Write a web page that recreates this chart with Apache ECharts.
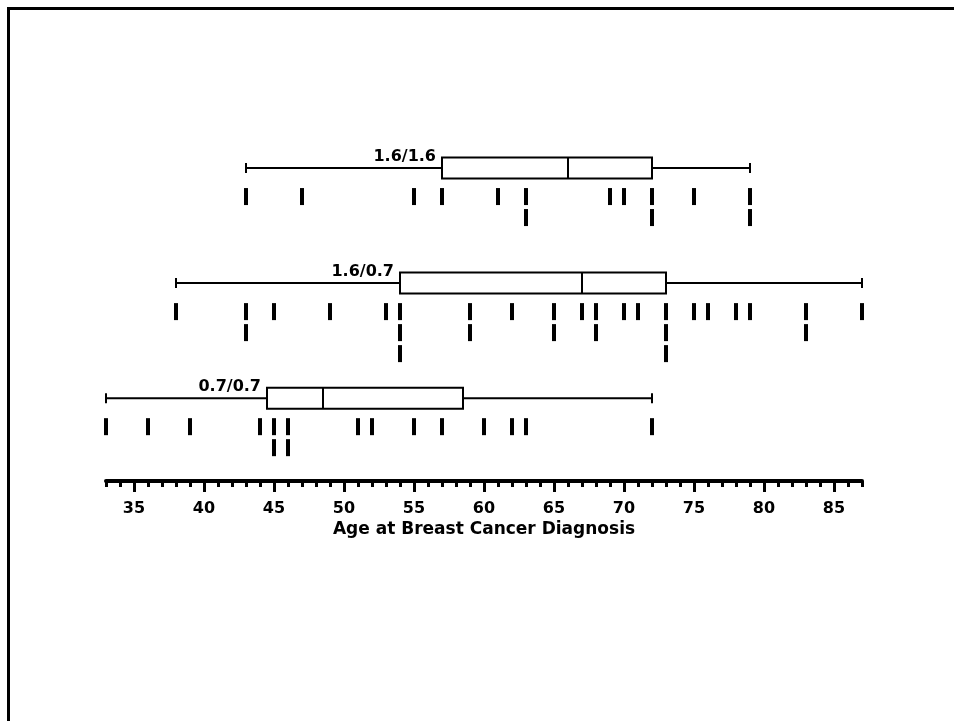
<!DOCTYPE html>
<html>
<head>
<meta charset="utf-8">
<script src="https://cdn.jsdelivr.net/npm/echarts@6/dist/echarts.min.js"></script>
<style>
html, body { margin: 0; padding: 0; background: #fff; }
#chart { width: 954px; height: 721px; }
</style>
</head>
<body>
<div id="chart"></div>
<script>
// ---- Data ----
const groupLabels = ['1.6/1.6', '1.6/0.7', '0.7/0.7'];
const groupRows = [3, 2, 1]; // vertical slot of each group (top to bottom)

const ages_16_16 = [43, 47, 55, 57, 61, 63, 63, 69, 70, 72, 72, 75, 79, 79];
const ages_16_07 = [38, 43, 43, 45, 49, 53, 54, 54, 54, 59, 59, 62, 65, 65, 67, 68, 68,
                    70, 71, 73, 73, 73, 75, 76, 78, 79, 83, 83, 87];
const ages_07_07 = [33, 36, 39, 44, 45, 45, 46, 46, 51, 52, 55, 57, 60, 62, 63, 72];

const boxMin = [43, 38, 33];
const boxQ1  = [57, 54, 44.5];
const boxMed = [66, 67, 48.5];
const boxQ3  = [72, 73, 58.5];
const boxMax = [79, 87, 72];

const majorTicks = [35, 40, 45, 50, 55, 60, 65, 70, 75, 80, 85];
const axisTitle = 'Age at Breast Cancer Diagnosis';

// ---- Build series data ----
const allAges = [ages_16_16, ages_16_07, ages_07_07];
const boxData = groupLabels.map((g, i) => [boxMin[i], boxQ1[i], boxMed[i], boxQ3[i], boxMax[i], groupRows[i], i]);
const rugData = [];
allAges.forEach((arr, gi) => {
  const seen = {};
  arr.forEach(v => {
    const row = seen[v] || 0;
    seen[v] = row + 1;
    rugData.push([v, groupRows[gi], row]);
  });
});

const FONT = '"DejaVu Sans", "Liberation Sans", Arial, sans-serif';

function renderBox(params, api) {
  const y = api.value(5);
  const pMin = api.coord([api.value(0), y]);
  const pQ1 = api.coord([api.value(1), y]);
  const pMed = api.coord([api.value(2), y]);
  const pQ3 = api.coord([api.value(3), y]);
  const pMax = api.coord([api.value(4), y]);
  const idx = api.value(6);
  const cy = pMin[1];
  const h = 21;
  const capH = 10;
  const ls = { stroke: '#000', lineWidth: 2 };
  return {
    type: 'group',
    children: [
      { type: 'line', shape: { x1: pMin[0], y1: cy, x2: pQ1[0], y2: cy }, style: ls },
      { type: 'line', shape: { x1: pQ3[0], y1: cy, x2: pMax[0], y2: cy }, style: ls },
      { type: 'line', shape: { x1: pMin[0], y1: cy - capH / 2, x2: pMin[0], y2: cy + capH / 2 }, style: ls },
      { type: 'line', shape: { x1: pMax[0], y1: cy - capH / 2, x2: pMax[0], y2: cy + capH / 2 }, style: ls },
      { type: 'rect', shape: { x: pQ1[0], y: cy - h / 2, width: pQ3[0] - pQ1[0], height: h },
        style: { fill: '#fff', stroke: '#000', lineWidth: 2 } },
      { type: 'line', shape: { x1: pMed[0], y1: cy - h / 2, x2: pMed[0], y2: cy + h / 2 }, style: ls },
      { type: 'text', x: pQ1[0] - 6, y: cy - 11,
        style: { text: groupLabels[idx], align: 'right', verticalAlign: 'middle',
                 font: 'bold 16px ' + FONT, fill: '#000' } }
    ]
  };
}

function renderRug(params, api) {
  const p = api.coord([api.value(0), api.value(1)]);
  const row = api.value(2);
  return {
    type: 'rect',
    shape: { x: p[0] - 2, y: p[1] + 20 + row * 21, width: 4, height: 17 },
    style: { fill: '#000' }
  };
}

const chart = echarts.init(document.getElementById('chart'), null, { renderer: 'canvas' });
chart.setOption({
  animation: false,
  backgroundColor: '#fff',
  textStyle: { fontFamily: FONT },
  graphic: [
    { type: 'rect', shape: { x: 8.5, y: 8.5, width: 1500, height: 1500 },
      style: { fill: 'none', stroke: '#000', lineWidth: 3 }, z: 100 }
  ],
  grid: { left: 106, right: 92, top: 53, bottom: 240, containLabel: false, outerBoundsMode: 'none' },
  xAxis: [
    {
      type: 'value', position: 'bottom', min: 33, max: 87, interval: 1,
      axisLine: { show: true, lineStyle: { color: '#000', width: 4 } },
      axisTick: { show: true, length: 6, lineStyle: { color: '#000', width: 3 } },
      axisLabel: { show: false },
      splitLine: { show: false }
    },
    {
      type: 'value', position: 'bottom', min: 33, max: 87,
      axisLine: { show: false },
      axisTick: { show: true, length: 11, customValues: majorTicks, lineStyle: { color: '#000', width: 3 } },
      axisLabel: { show: true, customValues: majorTicks, margin: 20, color: '#000',
                   fontFamily: FONT, fontWeight: 'bold', fontSize: 16 },
      splitLine: { show: false },
      name: axisTitle, nameLocation: 'middle', nameGap: 40, nameMoveOverlap: false,
      nameTextStyle: { color: '#000', fontFamily: FONT, fontWeight: 'bold', fontSize: 17 }
    }
  ],
  yAxis: { type: 'value', min: 0.28, max: 4, show: false, splitLine: { show: false } },
  series: [
    {
      type: 'custom', name: 'rug', xAxisIndex: 0, yAxisIndex: 0,
      renderItem: renderRug, data: rugData, encode: { x: 0, y: 1 }, clip: false
    },
    {
      type: 'custom', name: 'box', xAxisIndex: 0, yAxisIndex: 0,
      renderItem: renderBox, data: boxData, encode: { x: [0, 1, 2, 3, 4], y: 5 }, clip: false
    }
  ]
});
</script>
</body>
</html>
